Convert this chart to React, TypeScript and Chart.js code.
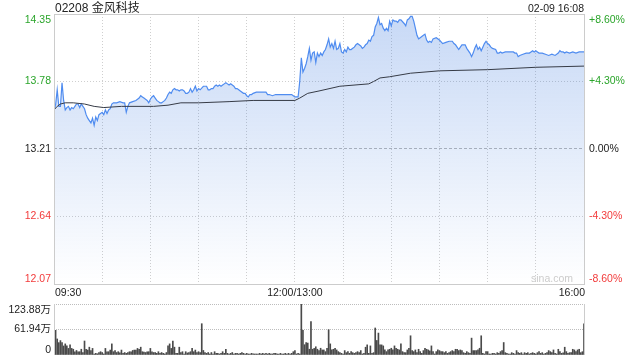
import React, { useEffect, useRef } from 'react';
import { Chart, registerables } from 'chart.js';

Chart.register(...registerables);

const FONT = '"Liberation Sans", Arial, "Noto Sans CJK SC", sans-serif';

const title = '02208 金风科技';
const stamp = '02-09 16:08';
const prevClose = 13.21;
const priceTicks = [14.35, 13.78, 13.21, 12.64, 12.07];
const pctTicks = ['+8.60%', '+4.30%', '0.00%', '-4.30%', '-8.60%'];
const volTicks = [123.88, 61.94, 0];
const volTickLabels = ['123.88万', '61.94万', '0'];
const xLabelMinutes = [0, 150, 330];
const xLabels = ['09:30', '12:00/13:00', '16:00'];

// [trading minute since 09:30, price]
const priceAM: [number, number][] = [
  [0,13.54],[1,13.58],[2,13.71],[3,13.57],[4,13.57],[5,13.77],[6,13.62],[7,13.54],[8,13.56],[9,13.57],
  [10,13.54],[11,13.56],[12,13.55],[13,13.57],[14,13.59],[15,13.59],[16,13.56],[17,13.59],[18,13.57],[19,13.55],
  [20,13.50],[21,13.47],[22,13.45],[23,13.43],[24,13.47],[25,13.41],[26,13.48],[27,13.45],[28,13.50],[29,13.51],
  [30,13.52],[31,13.50],[32,13.54],[33,13.51],[34,13.54],[35,13.55],[36,13.59],[37,13.60],[39,13.60],[41,13.61],
  [43,13.60],[44,13.60],[45,13.52],[46,13.57],[47,13.60],[49,13.61],[51,13.62],[53,13.64],[54,13.66],[55,13.65],
  [56,13.64],[57,13.63],[58,13.62],[59,13.60],[60,13.63],[61,13.65],[62,13.66],[63,13.64],[64,13.62],[65,13.61],
  [66,13.60],[67,13.60],[68,13.61],[69,13.62],[70,13.64],[71,13.67],[72,13.69],[73,13.68],[74,13.71],[75,13.72],
  [76,13.71],[77,13.71],[78,13.70],[79,13.71],[80,13.71],[81,13.70],[82,13.68],[83,13.68],[84,13.69],[85,13.72],
  [86,13.69],[87,13.71],[88,13.74],[89,13.70],[90,13.72],[91,13.71],[93,13.74],[94,13.74],[95,13.74],[96,13.71],
  [97,13.71],[98,13.72],[99,13.72],[100,13.74],[101,13.75],[102,13.74],[103,13.75],[104,13.74],[105,13.75],[106,13.76],
  [107,13.77],[108,13.76],[109,13.75],[110,13.76],[111,13.75],[112,13.74],[113,13.72],[114,13.72],[115,13.71],[116,13.70],
  [118,13.68],[119,13.68],[120,13.66],[121,13.65],[122,13.67],[123,13.67],[124,13.68],[126,13.69],[128,13.69],[130,13.69],
  [132,13.69],[133,13.67],[134,13.67],[136,13.66],[138,13.67],[140,13.67],[144,13.67],[148,13.67],[149,13.66],[150,13.65],
];

const pricePM: [number, number][] = [
  [151,13.65],[152,13.65],[153,13.78],[154,13.98],[155,13.86],[156,13.89],[157,13.93],[158,13.99],[159,14.06],[160,13.96],
  [161,14.02],[162,14.03],[163,13.94],[164,14.02],[165,13.99],[166,14.02],[167,14.00],[168,14.03],[169,14.05],[170,14.09],
  [171,14.14],[172,14.07],[173,14.10],[174,14.06],[175,14.12],[176,14.05],[177,14.06],[178,14.10],[179,14.03],[180,14.02],
  [181,14.05],[182,14.03],[183,14.07],[184,14.05],[185,14.05],[186,14.06],[187,14.07],[188,14.09],[189,14.10],[191,14.08],
  [192,14.06],[193,14.07],[194,14.09],[195,14.10],[196,14.13],[197,14.12],[198,14.16],[199,14.17],[200,14.24],[201,14.27],
  [202,14.32],[203,14.26],[204,14.27],[205,14.23],[206,14.21],[207,14.23],[208,14.21],[209,14.29],[210,14.25],[211,14.30],
  [212,14.29],[213,14.29],[214,14.28],[215,14.30],[216,14.30],[218,14.27],[219,14.25],[220,14.30],[221,14.31],[222,14.33],
  [223,14.33],[224,14.29],[225,14.23],[226,14.17],[227,14.14],[228,14.15],[229,14.16],[230,14.17],[231,14.18],[232,14.13],
  [233,14.11],[234,14.12],[235,14.11],[236,14.14],[238,14.15],[240,14.13],[242,14.10],[244,14.11],[246,14.12],[248,14.12],
  [249,14.10],[250,14.09],[252,14.05],[253,14.07],[254,14.09],[256,14.09],[257,14.06],[259,14.02],[260,13.99],[261,14.02],
  [262,14.06],[263,14.09],[264,14.05],[265,14.07],[266,14.04],[267,14.07],[268,14.10],[269,14.12],[270,14.10],[271,14.09],
  [272,14.07],[273,14.06],[275,14.05],[276,14.02],[277,14.02],[278,14.03],[279,14.02],[281,14.03],[283,14.03],[286,14.03],
  [287,14.02],[288,14.02],[289,13.99],[290,14.00],[292,14.01],[294,14.02],[296,14.02],[297,14.03],[298,14.04],[299,14.03],
  [300,14.04],[301,14.03],[302,14.02],[304,14.02],[306,14.01],[308,14.00],[310,14.01],[312,14.00],[314,14.02],[315,14.04],
  [316,14.03],[317,14.03],[318,14.02],[319,14.03],[321,14.02],[323,14.03],[325,14.02],[327,14.03],[329,14.03],[330,14.03],
];

const avgPoints: [number, number][] = [
  [0,13.54],[2,13.57],[4,13.59],[7,13.60],[12,13.60],[19,13.59],[25,13.57],[31,13.56],[42,13.57],[62,13.57],
  [71,13.58],[79,13.60],[90,13.60],[109,13.61],[124,13.62],[150,13.62],[153,13.64],[158,13.68],[165,13.70],[178,13.74],
  [196,13.76],[199,13.78],[203,13.81],[209,13.82],[222,13.85],[240,13.87],[270,13.88],[300,13.90],[330,13.91],
];

// volume (万), one per minute: 09:30..12:00 (151) and 13:01..16:00 (180)
const volAM = [
  76, 60, 39, 30, 35, 30, 22, 27, 22, 16, 25, 16, 14, 8, 11, 8, 8, 14, 6, 34, 14, 12, 19, 11, 16, 2.5, 4,
  3,
  6, 8, 6, 2.5, 16, 8, 8, 12, 27, 8, 11, 6, 8,
  5,
  12, 4, 6, 4, 6, 8, 8, 11, 12, 12, 16, 14, 19, 8,
  7,
  6, 8, 8, 16, 8, 6, 6, 4, 8, 4, 6, 4, 2.5, 6, 22, 27, 16, 34, 19, 4, 4, 19, 6, 8, 2.5, 8,
  5,
  6, 8, 16, 8, 12, 6, 8, 6,
  76,
  11, 6, 4, 6, 2.5, 6, 2.5, 8, 4, 4, 2.5, 4, 8, 4, 14, 4, 2.5, 4, 6, 2.5, 4, 4, 2.5, 4, 6, 4, 2.5, 4, 2.5, 2.5, 4,
  3,
  2.5, 2.5, 2.5, 4, 2.5, 4, 2.5, 4, 2.5, 4, 2.5, 2.5, 4, 4, 2.5, 2.5, 4, 2.5, 2.5, 4, 2.5, 4, 2.5, 4, 8, 11,
];

const volPM = [
  2.5, 4, 2.5, 123, 60, 25, 30, 29, 14, 81,
  14, 16, 20, 14, 10.7, 16.4, 12.3, 12.3, 8.2, 16.4,
  61.5, 27, 12.3, 13.9, 16.4, 12.3, 8.2, 5.7, 4, 2.5,
  10.7, 5.7, 8.2, 4.1, 8.2, 5.7, 4.1, 5.7, 8.2, 5.7,
  10.7, 2.5, 4.1, 18.9, 24.6, 4.1, 22.1, 4.1, 5.7, 65.6,
  35.3, 53.3, 24.6, 24.6, 22.1, 12.3, 8.2, 12.3, 13.9, 16.4,
  12.3, 22.1, 16.4, 13.9, 12.3, 27, 8.2, 6, 5.7, 12.3,
  16.4, 46.7, 10.7, 8.2, 12.3, 5.7, 13.9, 8.2, 4.1, 10.7,
  16.4, 13.9, 12.3, 10, 22.1, 8.2, 2.5, 8.2, 12.3, 10.7,
  8.2, 8.2, 5.7, 8.2, 4.1, 5.7, 8.2, 10.7, 8.2, 13.9,
  13.9, 10.7, 12.3, 10.7, 5.7, 4.1, 8.2, 5.7, 4.1, 41,
  10.7, 10.7, 10.7, 12.3, 16.4, 46.7, 4.1, 2.5, 8.2, 8.2,
  2.5, 2.5, 4.1, 4.1, 2.5, 5.7, 4.1, 8.2, 10.7, 30.3,
  5.7, 4.1, 2.5, 2.5, 5.7, 4.1, 2.5, 10.7, 5.7, 4,
  5.7, 2.5, 5.7, 4.1, 5.7, 2.5, 4.1, 5.7, 4.1, 2.5,
  5.7, 8.2, 4.1, 5.7, 2.5, 4.1, 5.7, 10.7, 8.2, 5.7,
  12.3, 4.1, 2.5, 13.9, 8.2, 4.1, 5, 18.9, 8.2, 4.1,
  5.7, 5.7, 13.9, 12.3, 8.2, 12.3, 13.9, 5.7, 8, 76,
];

const GREEN = '#2ba52b';
const RED = '#f23b3b';
const TEXT = '#222222';

const pricePlugin = {
  id: 'priceDecor',
  afterDraw(chart: any) {
    const c = chart.ctx;
    const ca = chart.chartArea;
    c.save();
    c.strokeStyle = '#cccccc';
    c.lineWidth = 1;
    c.setLineDash([]);
    c.strokeRect(ca.left + 0.5, ca.top + 0.5, ca.right - ca.left, ca.bottom - ca.top);

    c.fillStyle = TEXT;
    c.font = `12px ${FONT}`;
    c.textAlign = 'left';
    c.textBaseline = 'alphabetic';
    c.fillText(title, ca.left + 1, 12);
    c.font = `10.5px ${FONT}`;
    c.textAlign = 'right';
    c.fillText(stamp, ca.right, 12);

    const ys = chart.scales.y;
    c.font = `10.5px ${FONT}`;
    priceTicks.forEach((v, i) => {
      const y = ys.getPixelForValue(v);
      c.fillStyle = v > prevClose ? GREEN : v < prevClose ? RED : TEXT;
      c.textBaseline = i === 0 ? 'top' : i === priceTicks.length - 1 ? 'bottom' : 'middle';
      c.textAlign = 'right';
      c.fillText(v.toFixed(2), ca.left - 3, i === 0 ? y + 1 : y);
      c.textAlign = 'left';
      c.fillText(pctTicks[i], ca.right + 5, i === 0 ? y + 1 : y);
    });

    const xs = chart.scales.x;
    c.fillStyle = TEXT;
    c.textBaseline = 'middle';
    xLabels.forEach((t, i) => {
      const x = xs.getPixelForValue(xLabelMinutes[i]);
      c.textAlign = i === 0 ? 'left' : i === xLabels.length - 1 ? 'right' : 'center';
      c.fillText(t, i === 0 ? x + 1 : i === xLabels.length - 1 ? x + 1 : x, ca.bottom + 9);
    });

    c.font = `10.5px ${FONT}`;
    c.fillStyle = '#cccccc';
    c.textAlign = 'right';
    c.textBaseline = 'bottom';
    c.fillText('sina.com', ca.right - 11, ca.bottom);
    c.restore();
  },
};

const volPlugin = {
  id: 'volDecor',
  afterDraw(chart: any) {
    const c = chart.ctx;
    const ca = chart.chartArea;
    c.save();
    c.strokeStyle = '#cccccc';
    c.lineWidth = 1;
    c.beginPath();
    c.moveTo(ca.left + 0.5, ca.top);
    c.lineTo(ca.left + 0.5, ca.bottom);
    c.moveTo(ca.right + 0.5, ca.top);
    c.lineTo(ca.right + 0.5, ca.bottom);
    c.stroke();
    const ys = chart.scales.y;
    c.font = `10.5px ${FONT}`;
    c.fillStyle = TEXT;
    c.textAlign = 'right';
    volTicks.forEach((v, i) => {
      const y = ys.getPixelForValue(v);
      c.textBaseline = i === 0 ? 'top' : i === volTicks.length - 1 ? 'bottom' : 'middle';
      c.fillText(volTickLabels[i], ca.left - 3, i === 0 ? y + 1 : y);
    });
    c.restore();
  },
};

export default function App() {
  const priceRef = useRef<HTMLCanvasElement>(null);
  const volRef = useRef<HTMLCanvasElement>(null);

  useEffect(() => {
    Chart.defaults.font.family = FONT;
    const priceData = [...priceAM, ...pricePM].map(([x, y]) => ({ x, y }));
    const avgData = avgPoints.map(([x, y]) => ({ x, y }));
    const volumes = [...volAM, ...volPM];

    const pc = new Chart(priceRef.current as HTMLCanvasElement, {
      type: 'line',
      data: {
        datasets: [
          {
            data: priceData,
            borderColor: '#4f8cf0',
            borderWidth: 1.2,
            pointRadius: 0,
            tension: 0,
            fill: 'start',
            order: 2,
            backgroundColor: (ctx: any) => {
              const ch = ctx.chart;
              const area = ch.chartArea;
              if (!area) return 'rgba(39,107,219,0.15)';
              const g = ch.ctx.createLinearGradient(0, area.top, 0, area.bottom);
              g.addColorStop(0, 'rgba(39,107,219,0.26)');
              g.addColorStop(1, 'rgba(39,107,219,0)');
              return g;
            },
          },
          {
            data: avgData,
            borderColor: '#363b46',
            borderWidth: 1,
            pointRadius: 0,
            tension: 0,
            fill: false,
            order: 1,
          },
        ],
      },
      options: {
        responsive: false,
        animation: false,
        devicePixelRatio: 1,
        layout: { padding: { top: 14, right: 56, left: 0, bottom: 0 } },
        plugins: { legend: { display: false }, tooltip: { enabled: false } },
        scales: {
          x: {
            type: 'linear',
            min: 0,
            max: 330,
            offset: false,
            ticks: { display: false, stepSize: 30 },
            grid: { color: '#cfcfcf', drawTicks: false, lineWidth: 1 },
            border: { display: false, dash: [1, 2] },
            afterFit: (s: any) => { s.height = 16; },
          },
          y: {
            type: 'linear',
            min: 12.07,
            max: 14.35,
            ticks: { display: false },
            afterBuildTicks: (s: any) => { s.ticks = priceTicks.map((v) => ({ value: v })); },
            grid: {
              drawTicks: false,
              color: (c: any) => (c.tick && c.tick.value === prevClose ? '#b8b8b8' : '#cfcfcf'),
            },
            border: {
              display: false,
              dash: (c: any) => (c.tick && c.tick.value === prevClose ? [3, 2] : [1, 2]),
            },
            afterFit: (s: any) => { s.width = 54; },
          },
        },
      } as any,
      plugins: [pricePlugin],
    });

    const vc = new Chart(volRef.current as HTMLCanvasElement, {
      type: 'bar',
      data: {
        datasets: [
          {
            data: volumes.map((v, i) => ({ x: i, y: v })),
            backgroundColor: '#4a4a4a',
            borderWidth: 0,
            barThickness: 1,
          } as any,
        ],
      },
      options: {
        responsive: false,
        animation: false,
        devicePixelRatio: 1,
        layout: { padding: { top: 4, right: 56, left: 0, bottom: 0 } },
        plugins: { legend: { display: false }, tooltip: { enabled: false } },
        scales: {
          x: {
            type: 'linear',
            min: 0,
            max: 330,
            offset: false,
            ticks: { display: false },
            grid: { display: false, offset: false },
            border: { display: false },
            afterFit: (s: any) => { s.height = 5; },
          },
          y: {
            type: 'linear',
            min: 0,
            max: 123.88,
            ticks: { display: false },
            afterBuildTicks: (s: any) => { s.ticks = volTicks.map((v) => ({ value: v })); },
            grid: {
              drawTicks: false,
              color: (c: any) => (c.tick && c.tick.value === 0 ? 'rgba(0,0,0,0)' : '#bdbdbd'),
            },
            border: { display: false, dash: [1, 1] },
            afterFit: (s: any) => { s.width = 54; },
          },
        },
      } as any,
      plugins: [volPlugin],
    });

    return () => {
      pc.destroy();
      vc.destroy();
    };
  }, []);

  return (
    <div style={{ position: 'absolute', left: 0, top: 0, width: 640, height: 360, background: '#ffffff' }}>
      <canvas ref={priceRef} width={640} height={300} style={{ position: 'absolute', left: 0, top: 0, display: 'block' }} />
      <canvas ref={volRef} width={640} height={60} style={{ position: 'absolute', left: 0, top: 300, display: 'block' }} />
    </div>
  );
}
